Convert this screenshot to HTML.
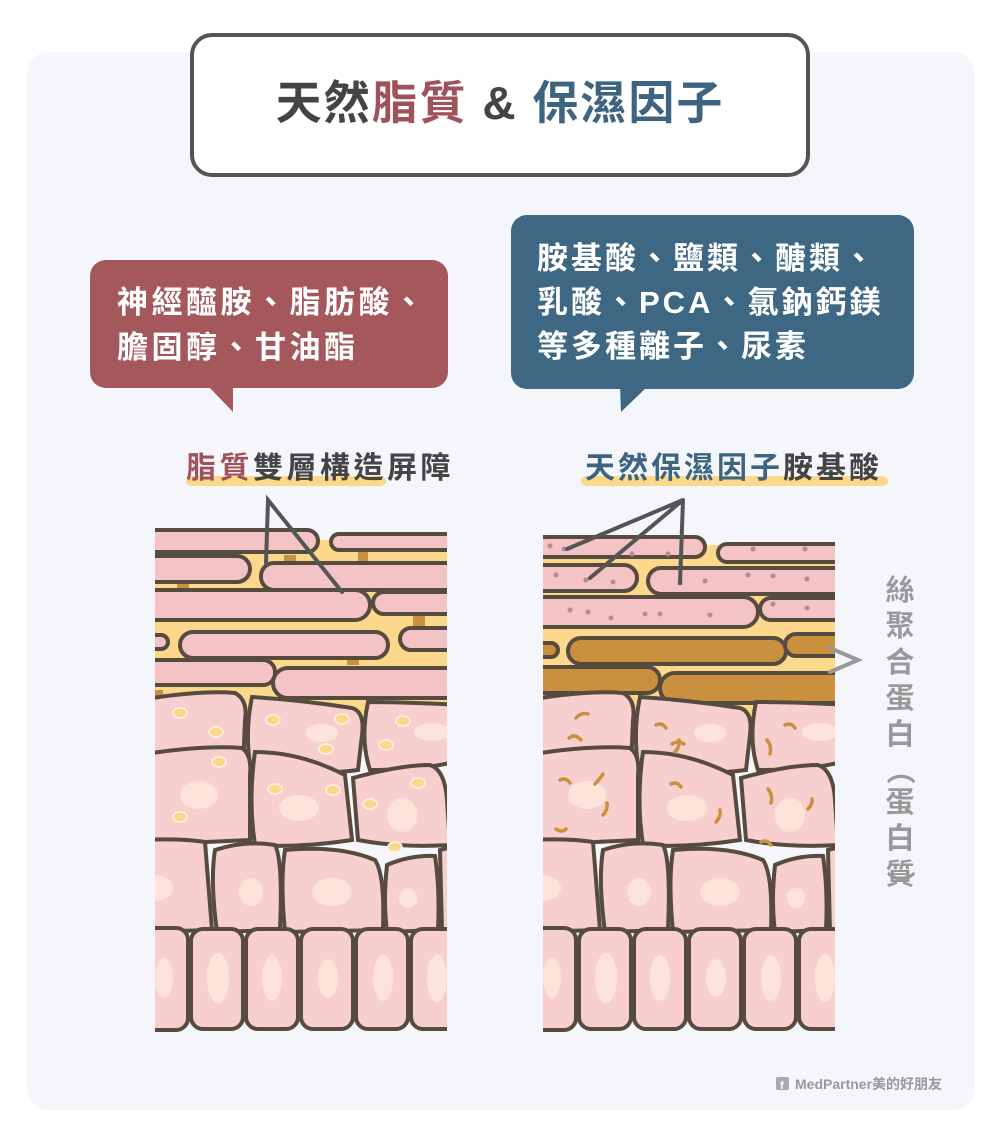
<!DOCTYPE html>
<html><head><meta charset="utf-8"><style>
html,body{margin:0;padding:0;background:#fff;}
svg{display:block;}
text{font-family:"Liberation Sans","Noto Sans CJK TC",sans-serif;font-weight:bold;}
</style></head><body>
<svg width="1000" height="1137" viewBox="0 0 1000 1137" xmlns="http://www.w3.org/2000/svg">
<defs>
<clipPath id="cl"><rect x="155" y="500" width="292" height="532"/></clipPath>
<clipPath id="cr"><rect x="543" y="500" width="292" height="532"/></clipPath>
<g id="cells" stroke="#574a3f" stroke-width="4">
  <path d="M140 700 Q200 690 235 693 Q248 700 245 720 L243 768 L140 770Z" fill="#f7cfcf"/>
  <path d="M252 697 Q300 700 352 708 Q365 712 362 735 L358 770 Q320 775 290 770 L250 765 Q245 730 252 697Z" fill="#f7cfcf"/>
  <path d="M368 702 Q410 702 460 705 L460 760 Q430 770 370 770 Q360 740 368 702Z" fill="#f7cfcf"/>
  <path d="M140 755 Q200 745 242 748 Q252 755 250 775 L250 840 L140 845Z" fill="#f7cfcf"/>
  <path d="M255 752 Q300 752 345 775 L352 840 Q300 848 255 845 Q248 800 255 752Z" fill="#f7cfcf"/>
  <path d="M353 778 Q400 765 430 765 Q445 770 447 800 L450 845 Q400 848 358 840Z" fill="#f7cfcf"/>
  <path d="M140 840 Q180 838 205 842 L212 930 L140 932Z" fill="#f7cfcf"/>
  <path d="M215 850 Q245 840 275 845 Q283 860 280 930 L217 932 Q210 880 215 850Z" fill="#f7cfcf"/>
  <path d="M285 850 Q340 845 375 860 Q385 875 383 930 L285 932 Q280 880 285 850Z" fill="#f7cfcf"/>
  <path d="M387 865 Q410 855 435 856 Q440 890 438 930 L387 932 Q383 900 387 865Z" fill="#f7cfcf"/>
  <path d="M440 850 L460 845 L460 932 L442 932Z" fill="#f7cfcf"/>
  <rect x="140" y="928" width="48" height="102" rx="12" fill="#f7cfcf"/>
  <rect x="191" y="929" width="52" height="100" rx="12" fill="#f7cfcf"/>
  <rect x="246" y="929" width="52" height="100" rx="12" fill="#f7cfcf"/>
  <rect x="301" y="929" width="52" height="100" rx="12" fill="#f7cfcf"/>
  <rect x="356" y="929" width="52" height="100" rx="12" fill="#f7cfcf"/>
  <rect x="411" y="929" width="52" height="100" rx="12" fill="#f7cfcf"/>
  <g fill="#fde3da" stroke="none">
    <ellipse cx="322" cy="733" rx="16" ry="9"/><ellipse cx="432" cy="732" rx="18" ry="9"/>
    <ellipse cx="199" cy="795" rx="19" ry="14"/><ellipse cx="299" cy="808" rx="20" ry="13"/><ellipse cx="402" cy="815" rx="15" ry="17"/>
    <ellipse cx="155" cy="888" rx="18" ry="13"/><ellipse cx="251" cy="892" rx="12" ry="14"/><ellipse cx="332" cy="892" rx="20" ry="14"/><ellipse cx="408" cy="898" rx="9" ry="10"/>
    <ellipse cx="164" cy="978" rx="9" ry="20"/><ellipse cx="218" cy="978" rx="11" ry="25"/><ellipse cx="272" cy="978" rx="10" ry="23"/><ellipse cx="328" cy="978" rx="10" ry="19"/><ellipse cx="383" cy="978" rx="10" ry="23"/><ellipse cx="437" cy="978" rx="10" ry="24"/>
  </g>
</g>
</defs>

<rect x="27" y="52" width="948" height="1058" rx="22" fill="#f4f6fb"/>
<rect x="192" y="35" width="616" height="140" rx="20" fill="#fff" stroke="#555" stroke-width="4"/>
<text x="500" y="119" font-size="46" text-anchor="middle" letter-spacing="2"><tspan fill="#444">天然</tspan><tspan fill="#a0525a">脂質</tspan><tspan fill="#444"> &amp; </tspan><tspan fill="#3d6580">保濕因子</tspan></text>

<rect x="90" y="260" width="358" height="128" rx="16" fill="#a5585b"/>
<path d="M208 386 L233 386 L233 412Z" fill="#a5585b"/>
<text x="117" y="313" font-size="31" fill="#fff" letter-spacing="3.5">神經醯胺、脂肪酸、</text>
<text x="117" y="358" font-size="31" fill="#fff" letter-spacing="3.5">膽固醇、甘油酯</text>

<rect x="511" y="215" width="403" height="174" rx="16" fill="#3e6783"/>
<path d="M620 386 L648 386 L621 412Z" fill="#3e6783"/>
<text x="537" y="269" font-size="31" fill="#fff" letter-spacing="3">胺基酸、鹽類、醣類、</text>
<text x="537" y="313" font-size="31" fill="#fff" letter-spacing="3">乳酸、PCA、氯鈉鈣鎂</text>
<text x="537" y="357" font-size="31" fill="#fff" letter-spacing="3">等多種離子、尿素</text>

<rect x="186" y="476" width="200" height="10" rx="5" fill="#fcd98a"/>
<text x="186" y="478" font-size="30" letter-spacing="3.5"><tspan fill="#a0525a">脂質</tspan><tspan fill="#444">雙層構造屏障</tspan></text>
<rect x="581" y="476" width="307" height="10" rx="5" fill="#fcd98a"/>
<text x="585" y="478" font-size="30" letter-spacing="3"><tspan fill="#3d6580">天然保濕因子</tspan><tspan fill="#444">胺基酸</tspan></text>

<g clip-path="url(#cl)">
  <rect x="150" y="540" width="310" height="180" fill="#fbd88b"/>
  <g fill="#c9913d">
    <rect x="284" y="555" width="12" height="22"/><rect x="177" y="580" width="12" height="14"/><rect x="303" y="582" width="12" height="14"/>
    <rect x="358" y="548" width="10" height="16"/><rect x="414" y="580" width="12" height="14"/><rect x="413" y="612" width="12" height="20"/>
    <rect x="197" y="650" width="12" height="15"/><rect x="347" y="650" width="12" height="15"/><rect x="290" y="688" width="12" height="18"/>
    <rect x="155" y="690" width="8" height="16"/>
  </g>
  <g fill="#f4c3c6" stroke="#574a3f" stroke-width="4">
    <rect x="130" y="530" width="188" height="22" rx="11"/>
    <rect x="331" y="534" width="130" height="16" rx="8"/>
    <rect x="130" y="556" width="120" height="26" rx="13"/>
    <rect x="261" y="563" width="200" height="27" rx="13"/>
    <rect x="130" y="590" width="240" height="30" rx="15"/>
    <rect x="373" y="592" width="90" height="22" rx="11"/>
    <rect x="130" y="635" width="38" height="14" rx="7"/>
    <rect x="180" y="632" width="208" height="26" rx="13"/>
    <rect x="400" y="628" width="60" height="22" rx="11"/>
    <rect x="130" y="660" width="145" height="25" rx="12"/>
    <rect x="273" y="668" width="190" height="30" rx="15"/>
  </g>
  <use href="#cells"/>
  <g fill="#fbd88b" stroke="#fff3e0" stroke-width="1.5">
    <ellipse cx="180" cy="713" rx="7" ry="5"/><ellipse cx="216" cy="732" rx="7" ry="5"/><ellipse cx="273" cy="720" rx="7" ry="5"/><ellipse cx="342" cy="719" rx="7" ry="5"/><ellipse cx="326" cy="749" rx="7" ry="5"/>
    <ellipse cx="403" cy="721" rx="7" ry="5"/><ellipse cx="386" cy="745" rx="7" ry="5"/><ellipse cx="219" cy="762" rx="7" ry="5"/><ellipse cx="180" cy="817" rx="7" ry="5"/>
    <ellipse cx="275" cy="789" rx="7" ry="5"/><ellipse cx="333" cy="790" rx="7" ry="5"/><ellipse cx="370" cy="804" rx="7" ry="5"/><ellipse cx="418" cy="783" rx="7" ry="5"/><ellipse cx="395" cy="847" rx="7" ry="5"/>
  </g>
</g>
<g stroke="#555" stroke-width="4" stroke-linecap="round" fill="none">
  <path d="M266 563 L268 500 L342 592"/>
</g>

<g clip-path="url(#cr)">
  <rect x="538" y="545" width="310" height="175" fill="#fbd88b"/>
  <g fill="#f4c3c6" stroke="#574a3f" stroke-width="4">
    <rect x="520" y="537" width="185" height="20" rx="10"/>
    <rect x="718" y="544" width="130" height="18" rx="9"/>
    <rect x="520" y="565" width="117" height="26" rx="13"/>
    <rect x="648" y="568" width="200" height="26" rx="13"/>
    <rect x="520" y="597" width="238" height="30" rx="15"/>
    <rect x="760" y="598" width="88" height="22" rx="11"/>
  </g>
  <g fill="#c9913d" stroke="#574a3f" stroke-width="4">
    <rect x="520" y="643" width="38" height="14" rx="7"/>
    <rect x="568" y="638" width="218" height="26" rx="13"/>
    <rect x="785" y="634" width="65" height="22" rx="11"/>
    <rect x="520" y="667" width="140" height="26" rx="13"/>
    <rect x="660" y="673" width="190" height="30" rx="15"/>
  </g>
  <g fill="#b98a8c">
    <circle cx="550" cy="546" r="2.5"/><circle cx="564" cy="549" r="2.5"/><circle cx="632" cy="554" r="2.5"/><circle cx="668" cy="554" r="2.5"/><circle cx="753" cy="549" r="2.5"/><circle cx="805" cy="549" r="2.5"/>
    <circle cx="556" cy="575" r="2.5"/><circle cx="586" cy="580" r="2.5"/><circle cx="613" cy="582" r="2.5"/><circle cx="680" cy="583" r="2.5"/><circle cx="705" cy="581" r="2.5"/><circle cx="748" cy="575" r="2.5"/><circle cx="773" cy="576" r="2.5"/><circle cx="807" cy="579" r="2.5"/>
    <circle cx="570" cy="610" r="2.5"/><circle cx="588" cy="612" r="2.5"/><circle cx="611" cy="618" r="2.5"/><circle cx="645" cy="614" r="2.5"/><circle cx="660" cy="614" r="2.5"/><circle cx="710" cy="615" r="2.5"/><circle cx="773" cy="604" r="2.5"/><circle cx="807" cy="608" r="2.5"/>
  </g>
  <use href="#cells" transform="translate(388 0)"/>
  <g stroke="#c9913d" stroke-width="3.5" fill="none" stroke-linecap="round">
    <path d="M576 718 q5 -6 12 -4"/><path d="M569 738 q6 -5 12 2"/><path d="M656 725 q6 -3 10 3"/><path d="M672 744 q6 -4 12 0"/><path d="M675 752 q5 -5 4 -12"/>
    <path d="M785 725 q6 -3 10 3"/><path d="M767 740 q5 6 3 14"/><path d="M560 780 q6 -3 10 3"/><path d="M595 784 q5 -5 8 -10"/><path d="M603 815 q5 -5 4 -12"/>
    <path d="M556 829 q6 4 10 0"/><path d="M671 784 q6 -3 10 3"/><path d="M716 822 q5 -5 4 -12"/><path d="M768 789 q5 6 3 14"/><path d="M808 809 q5 -5 4 -10"/><path d="M761 842 q6 -3 10 3"/>
  </g>
</g>
<g stroke="#555" stroke-width="4" stroke-linecap="round" fill="none">
  <path d="M567 549 L683 500 L590 578 M683 500 L680 583"/>
</g>
<path d="M830 648 L858 660 L830 672" stroke="#999" stroke-width="4" fill="none" stroke-linecap="round"/>

<g font-size="29" fill="#999" text-anchor="middle">
  <text x="900" y="600">絲</text><text x="900" y="636">聚</text><text x="900" y="672">合</text><text x="900" y="708">蛋</text><text x="900" y="744">白</text>
  <text x="900" y="780" transform="rotate(90 900 770)">（</text>
  <text x="900" y="812">蛋</text><text x="900" y="848">白</text><text x="900" y="884">質</text>
  <text x="900" y="895" transform="rotate(90 900 885)">）</text>
</g>

<rect x="776" y="1077" width="13" height="13" rx="2" fill="#aaa"/>
<text x="780" y="1089" font-size="11" fill="#fff">f</text>
<text x="795" y="1089" font-size="14" fill="#999" font-weight="normal">MedPartner美的好朋友</text>
</svg>
</body></html>
